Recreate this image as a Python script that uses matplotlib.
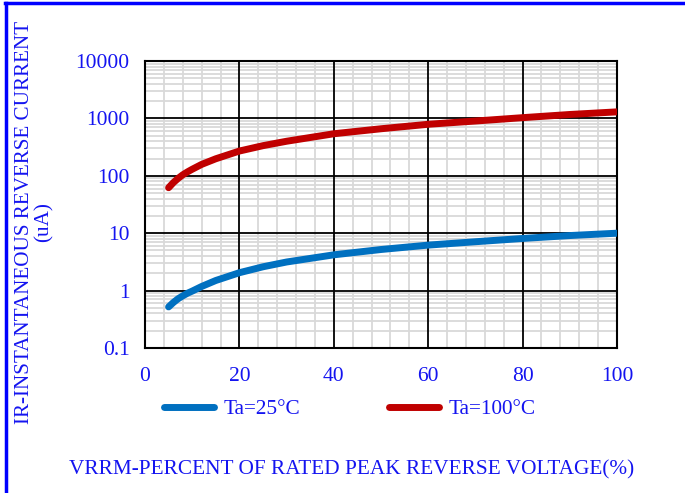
import matplotlib.pyplot as plt
from matplotlib.lines import Line2D
from matplotlib.ticker import FixedLocator, FixedFormatter, MultipleLocator, LogLocator, NullFormatter

plt.rcParams['font.family'] = ['Liberation Serif', 'DejaVu Serif']

# percent of rated peak reverse voltage
vr = [5, 6, 7, 8, 9, 10, 12, 15, 20, 25, 30, 40, 50, 60, 70, 80, 90, 100]

# reverse current (uA)
ir_25 = [0.52, 0.62, 0.72, 0.81, 0.9, 0.98, 1.18, 1.5, 2.05, 2.6, 3.15, 4.2, 5.2, 6.2, 7.1, 8.1, 9.1, 10.0]
ir_100 = [62, 76, 90, 104, 117, 130, 158, 198, 270, 335, 400, 540, 660, 790, 900, 1030, 1170, 1300]

y_ticks = [0.1, 1, 10, 100, 1000, 10000]
y_labels = ['0.1', '1', '10', '100', '1000', '10000']
x_ticks = [0, 20, 40, 60, 80, 100]

blue_txt = '#1414f0'

fig = plt.figure(figsize=(6.85, 4.93), dpi=100)
ax = fig.add_axes([145/685, 1 - 348/493, 472/685, 287/493])

ax.plot(vr, ir_25, color='#0070C0', lw=5, solid_capstyle='round', solid_joinstyle='round',
        label='Ta=25°C', zorder=3)
ax.plot(vr, ir_100, color='#C00000', lw=5, solid_capstyle='round', solid_joinstyle='round',
        label='Ta=100°C', zorder=3)

ax.set_yscale('log')
ax.set_xlim(0, 100)
ax.set_ylim(0.1, 10000)

ax.yaxis.set_major_locator(FixedLocator(y_ticks))
ax.yaxis.set_major_formatter(FixedFormatter(y_labels))
ax.yaxis.set_minor_locator(LogLocator(base=10, subs=range(2, 10)))
ax.yaxis.set_minor_formatter(NullFormatter())
ax.xaxis.set_major_locator(FixedLocator(x_ticks))
ax.xaxis.set_minor_locator(MultipleLocator(4))

# light minor grid, then black major grid above it
ax.grid(True, which='minor', color='#d9d9d9', lw=1.3)
ax.set_axisbelow(True)
for x in x_ticks:
    ax.axvline(x, color='black', lw=1.3, zorder=1.5)
for y in y_ticks:
    ax.axhline(y, color='black', lw=1.3, zorder=1.5)

ax.tick_params(which='both', length=0)
ax.tick_params(axis='y', pad=11, labelsize=15.5, labelcolor=blue_txt)
ax.tick_params(axis='x', pad=14, labelsize=15.5, labelcolor=blue_txt)
for s in ax.spines.values():
    s.set_linewidth(1.5)

fig.legend(loc='center', bbox_to_anchor=(350/685, 1 - 409/493), ncol=2, frameon=False,
           fontsize=15.3, labelcolor=blue_txt, handlelength=2.35, handletextpad=0.45,
           columnspacing=4.2)

fig.text(352/685, 1 - 470/493, 'VRRM-PERCENT OF RATED PEAK REVERSE VOLTAGE(%)',
         ha='center', va='center', fontsize=15.3, color=blue_txt)
fig.text(34/685, 1 - 222/493, 'IR-INSTANTANEOUS REVERSE CURRENT\n(uA)',
         ha='center', va='center', rotation=90, fontsize=15.2, color=blue_txt,
         multialignment='center', linespacing=1.05)

# blue frame on top and left edges
fig.add_artist(Line2D([5/685, 1], [1 - 3/493, 1 - 3/493], color='#0000ff', lw=2.5))
fig.add_artist(Line2D([6/685, 6/685], [0, 1 - 3/493], color='#0000ff', lw=2.5))

fig.savefig('out.png', dpi=100)
